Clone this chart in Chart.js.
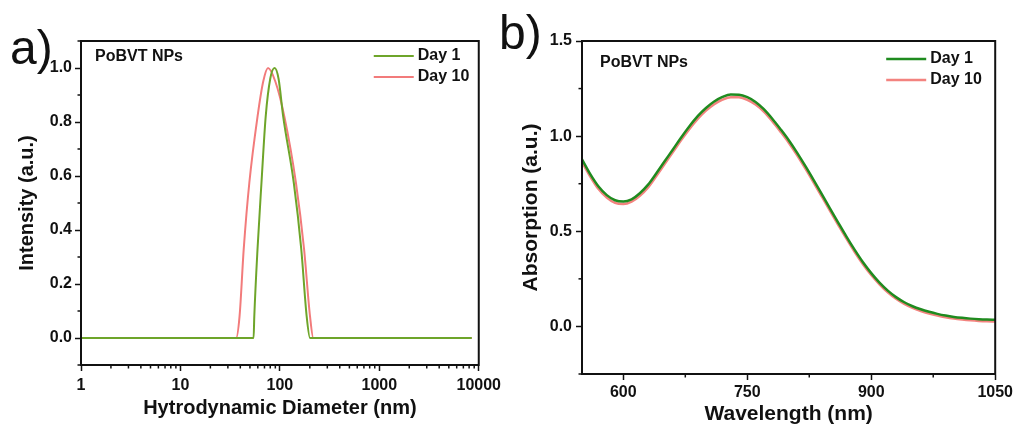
<!DOCTYPE html>
<html lang="en">
<head>
<meta charset="UTF-8" />
<title>PoBVT NPs stability</title>
<script src="https://cdn.jsdelivr.net/npm/chart.js@4.4.0/dist/chart.umd.min.js"></script>
<style>
  body { margin: 0; background: #fff; width: 1016px; height: 425px; overflow: hidden; position: relative; font-family: "Liberation Sans", Arial, sans-serif; }
  .panel { position: absolute; top: 0; }
  .tag { position: absolute; font-size: 48px; line-height: 48px; color: #111; }
</style>
</head>
<body>
<div class="panel" style="left:0px"><canvas id="chartA" width="506" height="425"></canvas></div>
<div class="panel" style="left:500px"><canvas id="chartB" width="516" height="425"></canvas></div>
<div class="tag" style="left:10px; top:24px">a)</div>
<div class="tag" style="left:499px; top:9px">b)</div>

<script>
// panel a - DLS size distribution
const sizeDay1 = [1, 54.4, 55.3, 59.6, 65.3, 72, 80, 88.5, 97, 108, 138, 164, 186, 201, 8500];
const intDay1  = [0, 0,    0.08, 0.33, 0.575, 0.82, 0.96, 1.0, 0.96, 0.82, 0.575, 0.33, 0.08, 0, 0];
const sizeDay10 = [1, 36.3, 39.3, 43.3, 49.3, 59.6, 68, 76, 90, 111, 145, 175, 201, 217, 8500];
const intDay10  = [0, 0,    0.08, 0.33, 0.575, 0.82, 0.95, 1.0, 0.95, 0.82, 0.575, 0.33, 0.08, 0, 0];
const sizeTicks = [1, 10, 100, 1000, 10000];
const intTicks = [0, 0.2, 0.4, 0.6, 0.8, 1.0];
const intMinor = [-0.1, 0.1, 0.3, 0.5, 0.7, 0.9, 1.1];

// panel b - UV-vis absorption
const wavelength = [550, 560, 570, 580, 590, 600, 610, 620, 630, 640, 650, 660, 670, 680, 690, 700,
  710, 720, 730, 740, 750, 760, 770, 780, 790, 800, 810, 820, 830, 840, 850, 860, 870, 880, 890, 900,
  910, 920, 930, 940, 950, 960, 970, 980, 990, 1000, 1010, 1020, 1030, 1040, 1050];
const absDay1 = [0.878, 0.80, 0.735, 0.69, 0.663, 0.656, 0.668, 0.70, 0.745, 0.805, 0.868, 0.93, 0.993, 1.052, 1.105, 1.148,
  1.182, 1.206, 1.219, 1.218, 1.205, 1.18, 1.142, 1.093, 1.038, 0.98, 0.915, 0.845, 0.772, 0.697, 0.621, 0.546, 0.472, 0.402, 0.337, 0.28,
  0.23, 0.188, 0.154, 0.127, 0.106, 0.09, 0.077, 0.066, 0.057, 0.05, 0.045, 0.041, 0.038, 0.036, 0.035];
const absDay10 = [0.865, 0.788, 0.722, 0.677, 0.649, 0.643, 0.656, 0.687, 0.731, 0.791, 0.854, 0.916, 0.979, 1.038, 1.091, 1.134,
  1.168, 1.192, 1.205, 1.204, 1.191, 1.166, 1.129, 1.080, 1.025, 0.967, 0.902, 0.832, 0.759, 0.684, 0.608, 0.534, 0.461, 0.391, 0.327, 0.270,
  0.221, 0.179, 0.145, 0.118, 0.097, 0.081, 0.068, 0.057, 0.048, 0.041, 0.036, 0.032, 0.029, 0.027, 0.026];
const wlTicks = [600, 750, 900, 1050];
const wlMinor = [675, 825, 975];
const absTicks = [0, 0.5, 1.0, 1.5];
const absMinor = [-0.25, 0.25, 0.75, 1.25];

const seriesLabels = ['Day 1', 'Day 10'];
const sampleName = 'PoBVT NPs';

// log minor ticks 2..9 per decade
const sizeMinor = [];
for (let d = 1; d < 10000; d *= 10) {
  for (let k = 2; k <= 9; k++) sizeMinor.push(d * k);
}

const FONT = '"Liberation Sans", Arial, sans-serif';
const INK = '#111';

function pts(xs, ys) { return xs.map((x, i) => ({ x: x, y: ys[i] })); }

// frame, minor ticks, sample name and legend
const decor = {
  id: 'decor',
  afterDraw(chart, args, opts) {
    const ctx = chart.ctx;
    const a = chart.chartArea;
    const xs = chart.scales.x, ys = chart.scales.y;
    ctx.save();
    ctx.strokeStyle = INK;
    ctx.lineWidth = 1.5;
    (opts.xMinor || []).forEach(v => {
      const px = xs.getPixelForValue(v);
      if (px < a.left - 0.5 || px > a.right + 0.5) return;
      ctx.beginPath(); ctx.moveTo(px, a.bottom); ctx.lineTo(px, a.bottom + 3.5); ctx.stroke();
    });
    (opts.yMinor || []).forEach(v => {
      const py = ys.getPixelForValue(v);
      ctx.beginPath(); ctx.moveTo(a.left, py); ctx.lineTo(a.left - 3.5, py); ctx.stroke();
    });
    ctx.lineWidth = 2;
    ctx.strokeRect(a.left, a.top, a.right - a.left, a.bottom - a.top);

    ctx.fillStyle = INK;
    ctx.font = 'bold 16px ' + FONT;
    ctx.textBaseline = 'middle';
    ctx.fillText(sampleName, a.left + opts.nameX, opts.nameY);

    chart.data.datasets.forEach((ds, i) => {
      const y = opts.legY + i * 21;
      const x0 = a.right - opts.legRight;
      ctx.strokeStyle = ds.borderColor;
      ctx.lineWidth = ds.borderWidth;
      ctx.beginPath(); ctx.moveTo(x0, y); ctx.lineTo(x0 + 40, y); ctx.stroke();
      ctx.fillStyle = INK;
      ctx.fillText(ds.label, x0 + 44, y);
    });
    ctx.restore();
  }
};

function axisCommon(ticksList, fmt, padding) {
  return {
    border: { display: true, color: INK, width: 2 },
    grid: { display: true, drawOnChartArea: false, drawTicks: true, tickLength: 6, tickWidth: 1.5, tickColor: INK },
    afterBuildTicks: s => { s.ticks = ticksList.map(v => ({ value: v })); },
    ticks: {
      color: INK, padding: padding, autoSkip: false, maxRotation: 0,
      font: { family: FONT, size: 16, weight: 'bold' },
      callback: fmt
    }
  };
}

Chart.defaults.animation = false;

// ---- panel a
const xA = axisCommon(sizeTicks, v => String(v), 5);
Object.assign(xA, {
  type: 'logarithmic', min: 1, max: 10000,
  afterFit: s => { s.height = 60; },
  title: { display: true, text: 'Hytrodynamic Diameter (nm)', color: INK,
    font: { family: FONT, size: 20, weight: 'bold', lineHeight: 1.2 }, padding: { top: 0, bottom: 5 } }
});
const yA = axisCommon(intTicks, v => v.toFixed(1), 3);
Object.assign(yA, {
  type: 'linear', min: -0.1, max: 1.1,
  afterFit: s => { s.width = 81; },
  title: { display: true, text: 'Intensity (a.u.)', color: INK,
    font: { family: FONT, size: 20, weight: 'bold', lineHeight: 1.2 }, padding: { top: 15, bottom: 0 } }
});

new Chart(document.getElementById('chartA'), {
  type: 'line',
  data: {
    datasets: [
      { label: seriesLabels[0], data: pts(sizeDay1, intDay1), borderColor: '#6ea52a', borderWidth: 2,
        pointRadius: 0, cubicInterpolationMode: 'monotone', fill: false },
      { label: seriesLabels[1], data: pts(sizeDay10, intDay10), borderColor: '#f27b7b', borderWidth: 2,
        pointRadius: 0, cubicInterpolationMode: 'monotone', fill: false }
    ]
  },
  options: {
    responsive: false,
    layout: { padding: { top: 41, right: 22, left: 0, bottom: 0 } },
    scales: { x: xA, y: yA },
    plugins: {
      legend: { display: false }, tooltip: { enabled: false },
      decor: { xMinor: sizeMinor, yMinor: intMinor, nameX: 14, nameY: 57, legY: 56, legRight: 105 }
    }
  },
  plugins: [decor]
});

// ---- panel b
const xB = axisCommon(wlTicks, v => String(v), 3);
Object.assign(xB, {
  type: 'linear', min: 550, max: 1050,
  afterFit: s => { s.height = 51; },
  title: { display: true, text: 'Wavelength (nm)', color: INK,
    font: { family: FONT, size: 21, weight: 'bold', lineHeight: 1 }, padding: { top: 0, bottom: 0 } }
});
const yB = axisCommon(absTicks, v => v.toFixed(1), 4);
Object.assign(yB, {
  type: 'linear', min: -0.25, max: 1.5,
  afterFit: s => { s.width = 82; },
  title: { display: true, text: 'Absorption (a.u.)', color: INK,
    font: { family: FONT, size: 21, weight: 'bold', lineHeight: 1.2 }, padding: { top: 19, bottom: 0 } }
});

new Chart(document.getElementById('chartB'), {
  type: 'line',
  data: {
    datasets: [
      { label: seriesLabels[0], data: pts(wavelength, absDay1), borderColor: '#1f8b1f', borderWidth: 2.5,
        pointRadius: 0, cubicInterpolationMode: 'monotone', fill: false },
      { label: seriesLabels[1], data: pts(wavelength, absDay10), borderColor: '#f3837f', borderWidth: 2.5,
        pointRadius: 0, cubicInterpolationMode: 'monotone', fill: false }
    ]
  },
  options: {
    responsive: false,
    layout: { padding: { top: 41, right: 20, left: 0, bottom: 0 } },
    scales: { x: xB, y: yB },
    plugins: {
      legend: { display: false }, tooltip: { enabled: false },
      decor: { xMinor: wlMinor, yMinor: absMinor, nameX: 18, nameY: 63, legY: 59, legRight: 109 }
    }
  },
  plugins: [decor]
});
</script>
</body>
</html>
